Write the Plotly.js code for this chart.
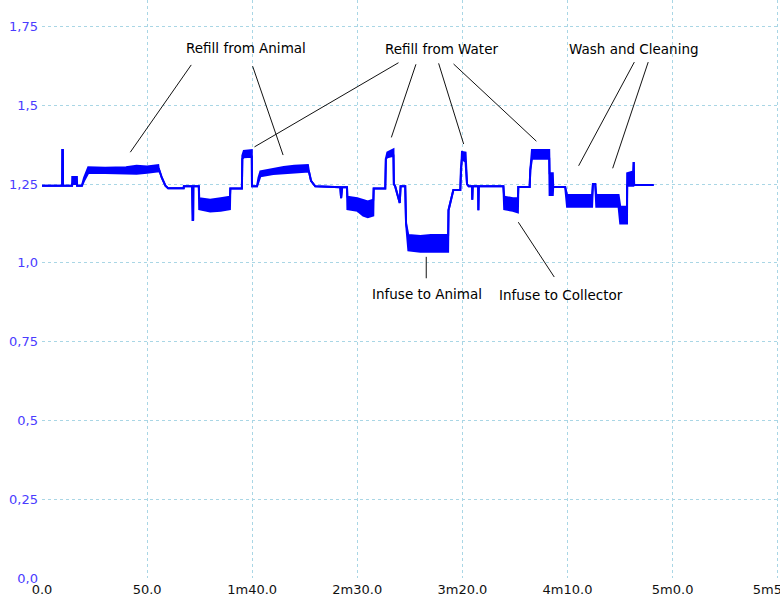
<!DOCTYPE html>
<html>
<head>
<meta charset="utf-8">
<script src="https://cdn.plot.ly/plotly-3.0.1.min.js"></script>
<style>html,body{margin:0;padding:0;background:#fff}#chart{width:780px;height:603px}</style>
</head>
<body>
<div id="chart"></div>
<script>
// time in seconds
var tSec = [0, 9.6, 9.7, 9.9, 10.0, 14.3, 14.4, 16.6, 16.7, 19.0, 20.0, 21.4, 22.0, 30, 40, 45, 50, 55.3,
  55.5, 57, 58.7, 60, 67.4, 67.5, 71.4, 71.6, 71.9, 72.0, 74.6,
  74.8, 80, 85, 89.4, 89.6, 95.1,
  95.3, 96, 99.8, 99.9, 102.3,
  103.0, 103.9, 110, 115, 120, 126.5,
  127, 128, 130, 141.9, 142.3, 142.8, 145.1,
  145.3, 150, 152.8, 155, 157.6, 157.8, 163.3,
  163.6, 164.3, 167.2, 167.4, 168, 170.2, 170.6, 172.8,
  173.2, 174.3, 180, 185, 193.2, 193.4, 195.1, 195.7, 199.0,
  199.3, 199.8, 201.5, 202.2, 203, 204.6, 204.7, 204.9, 207.5, 207.6, 207.8, 219.5,
  219.9, 224, 226.4, 226.6, 232.0,
  232.3, 233.1, 241.3, 241.5, 243.0, 243.2, 248.9,
  249.8, 261.7, 262.1, 263.2, 263.7, 274.3,
  275.1, 278.3, 278.4, 281.3, 281.5, 281.7, 291.0];
// upper envelope of the pressure signal
var upper = [1.245, 1.245, 1.358, 1.358, 1.245, 1.245, 1.272, 1.272, 1.245, 1.245, 1.27, 1.298, 1.303, 1.302, 1.303, 1.308, 1.306, 1.31,
  1.30, 1.27, 1.245, 1.237, 1.237, 1.243, 1.243, 1.136, 1.136, 1.243, 1.243,
  1.205, 1.20, 1.205, 1.21, 1.236, 1.236,
  1.34, 1.355, 1.358, 1.243, 1.243,
  1.27, 1.29, 1.298, 1.304, 1.308, 1.31,
  1.29, 1.26, 1.243, 1.24, 1.205, 1.24, 1.24,
  1.21, 1.205, 1.20, 1.195, 1.20, 1.236, 1.236,
  1.33, 1.35, 1.36, 1.25, 1.243, 1.19, 1.243, 1.243,
  1.125, 1.088, 1.085, 1.088, 1.088, 1.167, 1.22, 1.231, 1.231,
  1.30, 1.352, 1.35, 1.25, 1.243, 1.243, 1.20, 1.243, 1.243, 1.167, 1.243, 1.243,
  1.21, 1.205, 1.205, 1.241, 1.241,
  1.294, 1.358, 1.358, 1.284, 1.284, 1.241, 1.241,
  1.215, 1.215, 1.25, 1.25, 1.215, 1.215,
  1.178, 1.178, 1.284, 1.29, 1.32, 1.247, 1.247];
// lower envelope of the pressure signal
var lower = [1.245, 1.245, 1.358, 1.358, 1.245, 1.245, 1.25, 1.25, 1.245, 1.245, 1.26, 1.28, 1.285, 1.285, 1.285, 1.283, 1.286, 1.29,
  1.30, 1.27, 1.245, 1.237, 1.237, 1.243, 1.243, 1.136, 1.136, 1.243, 1.243,
  1.17, 1.163, 1.165, 1.17, 1.236, 1.236,
  1.33, 1.335, 1.337, 1.243, 1.243,
  1.26, 1.275, 1.282, 1.285, 1.287, 1.29,
  1.29, 1.26, 1.243, 1.24, 1.205, 1.24, 1.24,
  1.17, 1.165, 1.15, 1.145, 1.15, 1.236, 1.236,
  1.33, 1.335, 1.34, 1.25, 1.243, 1.19, 1.243, 1.243,
  1.125, 1.04, 1.035, 1.035, 1.035, 1.167, 1.22, 1.231, 1.231,
  1.30, 1.33, 1.32, 1.25, 1.243, 1.243, 1.20, 1.243, 1.243, 1.167, 1.243, 1.243,
  1.17, 1.165, 1.16, 1.241, 1.241,
  1.294, 1.33, 1.33, 1.215, 1.215, 1.241, 1.241,
  1.178, 1.178, 1.25, 1.25, 1.178, 1.178,
  1.125, 1.125, 1.245, 1.245, 1.32, 1.247, 1.247];

var xTickVals = [0, 50, 100, 150, 200, 250, 300, 350];
var xTickText = ["0.0", "50.0", "1m40.0", "2m30.0", "3m20.0", "4m10.0", "5m0.0", "5m50.0"];
var yTickVals = [0, 0.25, 0.5, 0.75, 1.0, 1.25, 1.5, 1.75];
var yTickText = ["0,0", "0,25", "0,5", "0,75", "1,0", "1,25", "1,5", "1,75"];

// annotation labels [text, x, y]
var labels = [
  ["Refill from Animal", 97.2, 1.681],
  ["Refill from Water", 190.0, 1.678],
  ["Wash and Cleaning", 281.8, 1.678],
  ["Infuse to Animal", 183.3, 0.901],
  ["Infuse to Collector", 247.0, 0.898]
];
// leader lines [x0, y0, x1, y1]
var leaders = [
  [71.0, 1.628, 42.0, 1.351],
  [100.2, 1.624, 114.7, 1.342],
  [169.6, 1.635, 101.1, 1.368],
  [177.9, 1.630, 166.2, 1.398],
  [188.7, 1.633, 200.6, 1.377],
  [195.8, 1.631, 235.2, 1.386],
  [281.8, 1.637, 255.3, 1.308],
  [288.4, 1.637, 271.5, 1.300],
  [182.8, 1.019, 182.8, 0.951],
  [226.6, 1.129, 243.7, 0.955]
];

var blue = '#0000ff';
var traces = [
  {x: tSec, y: upper, type: 'scatter', mode: 'lines', line: {color: blue, width: 2}, hoverinfo: 'skip'},
  {x: tSec, y: lower, type: 'scatter', mode: 'lines', line: {color: blue, width: 2}, fill: 'tonexty', fillcolor: blue, hoverinfo: 'skip'}
];

var gridCol = '#a9d6e5';
var layout = {
  width: 780, height: 603,
  margin: {l: 42, r: 0, t: 0, b: 25},
  paper_bgcolor: '#fff', plot_bgcolor: '#fff',
  showlegend: false,
  font: {family: 'DejaVu Sans, sans-serif', size: 13, color: '#111'},
  xaxis: {
    range: [0, 351.1], tickvals: xTickVals, ticktext: xTickText,
    showgrid: true, gridcolor: gridCol, griddash: '3px,3px', gridwidth: 1,
    zeroline: false, showline: false, ticks: '', ticklabeloverflow: 'allow',
    ticklabelstandoff: 2,
    tickfont: {family: 'DejaVu Sans, sans-serif', size: 13, color: '#111'}
  },
  yaxis: {
    range: [0, 1.834], tickvals: yTickVals, ticktext: yTickText,
    showgrid: true, gridcolor: gridCol, griddash: '3px,3px', gridwidth: 1,
    zeroline: false, showline: false, ticks: '', ticklabelstandoff: 3,
    tickfont: {family: 'DejaVu Sans, sans-serif', size: 13, color: '#4a3cff'}
  },
  annotations: labels.map(function (l) {
    return {text: l[0], x: l[1], y: l[2], xref: 'x', yref: 'y', showarrow: false,
      font: {family: 'DejaVu Sans, sans-serif', size: 13.5, color: '#000'}};
  }),
  shapes: leaders.map(function (s) {
    return {type: 'line', xref: 'x', yref: 'y', x0: s[0], y0: s[1], x1: s[2], y1: s[3],
      line: {color: '#111', width: 1}};
  })
};

Plotly.newPlot('chart', traces, layout, {staticPlot: true, displayModeBar: false});
</script>
</body>
</html>
